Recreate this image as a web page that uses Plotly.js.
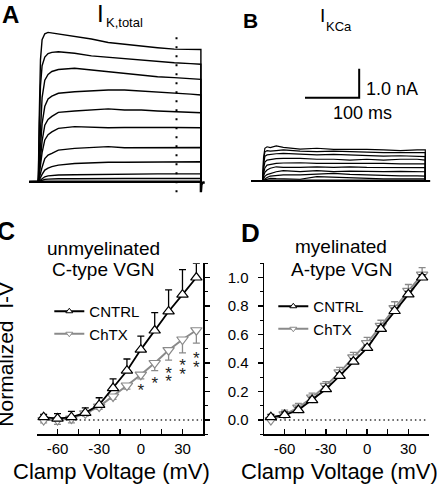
<!DOCTYPE html>
<html><head><meta charset="utf-8">
<script src="https://cdn.plot.ly/plotly-3.0.1.min.js"></script>
<style>html,body{margin:0;padding:0;background:#fff}#plot{width:437px;height:489px}</style>
</head><body><div id="plot"></div>
<script>
// ---------- Panel A: I K,total current family (time ms, current nA) ----------
const stepStartMs = 0, stepEndMs = 300;
const preTimesA = [-17, 0];
const stepTimesA = [1.5, 4, 7, 12, 18, 25, 37, 67, 98, 129, 159, 190, 220, 251, 281, 300];
const kTotal1 = [2.0, 4.2, 4.9, 5.1, 5.15, 5.13, 5.08, 5.02, 4.92, 4.80, 4.74, 4.66, 4.62, 4.57, 4.56, 4.56];
const kTotal2 = [1.5, 3.3, 4.0, 4.3, 4.42, 4.46, 4.48, 4.43, 4.34, 4.29, 4.25, 4.20, 4.14, 4.10, 4.07, 4.05];
const kTotal3 = [0.8, 2.0, 2.9, 3.5, 3.7, 3.8, 3.87, 3.91, 3.85, 3.79, 3.74, 3.68, 3.62, 3.59, 3.54, 3.53];
const kTotal4 = [0.5, 1.3, 2.0, 2.6, 2.85, 2.95, 3.05, 3.10, 3.13, 3.16, 3.16, 3.13, 3.10, 3.07, 3.02, 2.99];
const kTotal5 = [0.3, 0.9, 1.4, 1.95, 2.15, 2.25, 2.39, 2.44, 2.47, 2.51, 2.47, 2.47, 2.44, 2.41, 2.39, 2.38];
const kTotal6 = [0.2, 0.6, 1.0, 1.44, 1.62, 1.72, 1.84, 1.90, 1.87, 1.86, 1.87, 1.86, 1.87, 1.87, 1.86, 1.86];
const kTotal7 = [0.1, 0.3, 0.5, 0.80, 0.92, 0.98, 1.09, 1.15, 1.17, 1.21, 1.17, 1.17, 1.17, 1.16, 1.17, 1.18];
const kTotal8 = [0.05, 0.15, 0.25, 0.40, 0.47, 0.52, 0.57, 0.63, 0.66, 0.67, 0.67, 0.67, 0.69, 0.69, 0.69, 0.69];
const kTotal9 = [0.02, 0.06, 0.10, 0.17, 0.20, 0.22, 0.23, 0.24, 0.25, 0.26, 0.26, 0.26, 0.27, 0.27, 0.27, 0.27];
const kTotal10 = [0.01, 0.03, 0.05, 0.08, 0.09, 0.10, 0.10, 0.10, 0.11, 0.11, 0.11, 0.11, 0.11, 0.11, 0.11, 0.11];
const tailTimesA = [300, 300, 301, 303, 307];
const tailCurrentA = [0, -0.36, -0.1, -0.04, -0.02];
const markerTimeMs = 255;
const markerSpanNA = [-0.36, 5.13];

// ---------- Panel B: I KCa current family ----------
const preTimesB = [-21, 0];
const stepTimesB = [1.5, 4, 8, 14, 25, 38, 69, 100, 131, 161, 192, 223, 254, 285, 300];
const kCa1 = [0.8, 1.13, 1.18, 1.15, 1.21, 1.16, 1.10, 1.13, 1.09, 1.10, 1.09, 1.07, 1.05, 1.07, 1.07];
const kCa2 = [0.7, 1.00, 1.05, 1.03, 1.05, 1.07, 1.03, 1.01, 1.03, 1.01, 1.01, 0.98, 0.98, 0.98, 0.98];
const kCa3 = [0.55, 0.85, 0.90, 0.92, 0.94, 0.95, 0.93, 0.90, 0.92, 0.90, 0.86, 0.86, 0.87, 0.84, 0.84];
const kCa4 = [0.4, 0.65, 0.72, 0.74, 0.77, 0.78, 0.78, 0.75, 0.75, 0.72, 0.75, 0.72, 0.75, 0.75, 0.72];
const kCa5 = [0.25, 0.45, 0.55, 0.58, 0.61, 0.62, 0.63, 0.61, 0.61, 0.63, 0.61, 0.61, 0.59, 0.59, 0.59];
const kCa6 = [0.15, 0.30, 0.38, 0.44, 0.49, 0.47, 0.47, 0.49, 0.47, 0.49, 0.47, 0.47, 0.47, 0.46, 0.46];
const kCa7 = [0.08, 0.16, 0.22, 0.26, 0.32, 0.36, 0.32, 0.36, 0.32, 0.34, 0.32, 0.32, 0.33, 0.32, 0.32];
const kCa8 = [0.04, 0.08, 0.12, 0.17, 0.19, 0.21, 0.21, 0.24, 0.26, 0.23, 0.21, 0.21, 0.18, 0.18, 0.17];
const kCa9 = [0.02, 0.04, 0.06, 0.09, 0.08, 0.07, 0.06, 0.15, 0.13, 0.09, 0.09, 0.07, 0.07, 0.07, 0.07];
const kCa10 = [0.01, 0.02, 0.02, 0.03, 0.03, 0.04, 0.03, 0.04, 0.04, 0.05, 0.04, 0.04, 0.03, 0.03, 0.03];
const baselineB = [-21, 309];
const scaleBarMs = 100, scaleBarNA = 1.0;
const scaleCornerMs = 178, scaleCornerNA = 2.87;

// ---------- Panels C, D: normalized I-V ----------
const voltages = [-70, -60, -50, -40, -30, -20, -10, 0, 10, 20, 30, 40];
const cCntrl = [0.02, 0.01, 0.02, 0.05, 0.106, 0.224, 0.346, 0.494, 0.628, 0.762, 0.88, 1.0];
const cCntrlErr = [0.02, 0.035, 0.04, 0.035, 0.05, 0.064, 0.082, 0.094, 0.125, 0.151, 0.176, 0.1];
const cChtx = [0.0, 0.0, 0.01, 0.047, 0.094, 0.165, 0.242, 0.318, 0.40, 0.49, 0.565, 0.63];
const cChtxErr = [0.02, 0.03, 0.03, 0.02, 0.02, 0.02, 0.025, 0.03, 0.054, 0.07, 0.094, 0.09];
const dCntrl = [0.02, 0.035, 0.07, 0.14, 0.216, 0.31, 0.41, 0.506, 0.64, 0.765, 0.882, 1.0];
const dCntrlErr = [0.02, 0.02, 0.02, 0.02, 0.02, 0.02, 0.02, 0.02, 0.02, 0.02, 0.02, 0.02];
const dChtx = [0.0, 0.04, 0.087, 0.158, 0.24, 0.334, 0.44, 0.54, 0.66, 0.785, 0.906, 1.02];
const dChtxErr = [0.02, 0.03, 0.03, 0.03, 0.03, 0.035, 0.035, 0.04, 0.04, 0.045, 0.045, 0.05];
const starsV = [0, 10, 20, 20, 30, 30, 40, 40];
const starsY = [0.20, 0.245, 0.32, 0.262, 0.373, 0.313, 0.423, 0.363];
const zeroLineV = [-70, 44];
const xTickVals = [-60, -30, 0, 30];
const xTickText = ['-60', '-30', '0', '30'];
const yTickVals = [0, 0.2, 0.4, 0.6, 0.8, 1.0];
const yTickText = ['0.0', '0.2', '0.4', '0.6', '0.8', '1.0'];
const seriesNames = ['CNTRL', 'ChTX'];

// ---------- build ----------
const W = 437, H = 489;
const FONT = 'Liberation Sans, Arial, Helvetica, sans-serif';
const GRAY = '#8a8a8a';
const dx = (a, b) => [a / W, b / W];
const dy = (top, bot) => [1 - bot / H, 1 - top / H];

const traces = [];
const sweep = (pre, times, vals, end, xa, ya, w) => ({
  x: pre.concat(times).concat([end]), y: pre.map(() => 0).concat(vals).concat([0]),
  xaxis: xa, yaxis: ya, mode: 'lines', line: {color: '#000', width: w}, showlegend: false, hoverinfo: 'skip'
});
[kTotal1, kTotal2, kTotal3, kTotal4, kTotal5, kTotal6, kTotal7, kTotal8, kTotal9, kTotal10].forEach(v =>
  traces.push(sweep(preTimesA, stepTimesA, v, stepEndMs, 'x', 'y', 1.4)));
traces.push({x: [preTimesA[0]].concat(tailTimesA), y: [0].concat(tailCurrentA), xaxis: 'x', yaxis: 'y',
  mode: 'lines', line: {color: '#000', width: 2.4}, showlegend: false});
traces.push({x: [markerTimeMs, markerTimeMs], y: markerSpanNA, xaxis: 'x', yaxis: 'y', mode: 'lines',
  line: {color: '#000', width: 2, dash: '2px,7px'}, showlegend: false});

[kCa1, kCa2, kCa3, kCa4, kCa5, kCa6, kCa7, kCa8, kCa9, kCa10].forEach(v =>
  traces.push(sweep(preTimesB, stepTimesB, v, stepEndMs, 'x2', 'y2', 1.2)));
traces.push({x: baselineB, y: [0, 0], xaxis: 'x2', yaxis: 'y2', mode: 'lines', line: {color: '#000', width: 2}, showlegend: false});
traces.push({x: [scaleCornerMs - scaleBarMs, scaleCornerMs, scaleCornerMs],
  y: [scaleCornerNA, scaleCornerNA, scaleCornerNA + scaleBarNA], xaxis: 'x2', yaxis: 'y2',
  mode: 'lines', line: {color: '#000', width: 2}, showlegend: false});

function ivPanel(xa, ya, cntrl, cErr, chtx, hErr, chtxDown) {
  traces.push({x: zeroLineV, y: [0, 0], xaxis: xa, yaxis: ya, mode: 'lines',
    line: {color: '#333', width: 1.4, dash: '1.5px,3px'}, showlegend: false});
  traces.push({x: voltages, y: chtx, xaxis: xa, yaxis: ya, mode: 'lines+markers', showlegend: false,
    line: {color: GRAY, width: 2},
    marker: {symbol: 'triangle-down', size: 10, color: '#fff', line: {color: GRAY, width: 1.2}},
    error_y: chtxDown ? {type: 'data', symmetric: false, array: chtx.map(() => 0), arrayminus: hErr, color: GRAY, thickness: 1.3, width: 3.5}
                      : {type: 'data', symmetric: false, array: hErr, arrayminus: chtx.map(() => 0), color: GRAY, thickness: 1.3, width: 3.5}});
  traces.push({x: voltages, y: cntrl, xaxis: xa, yaxis: ya, mode: 'lines+markers', showlegend: false,
    line: {color: '#000', width: 1.8},
    marker: {symbol: 'triangle-up', size: 10, color: '#fff', line: {color: '#000', width: 1.2}},
    error_y: {type: 'data', symmetric: false, array: cErr, arrayminus: cntrl.map(() => 0), color: '#000', thickness: 1.3, width: 3.5}});
}
ivPanel('x3', 'y3', cCntrl, cCntrlErr, cChtx, cChtxErr, true);
ivPanel('x4', 'y4', dCntrl, dCntrlErr, dChtx, dChtxErr, false);
traces.push({x: starsV, y: starsY, xaxis: 'x3', yaxis: 'y3', mode: 'text', text: starsV.map(() => '*'),
  textfont: {size: 17, color: '#222', family: FONT}, showlegend: false});

// legend entries
[['x3', 'y3', 'legend'], ['x4', 'y4', 'legend2']].forEach(([xa, ya, lg]) => {
  traces.push({x: [null], y: [null], xaxis: xa, yaxis: ya, name: seriesNames[0], legend: lg, mode: 'lines+markers',
    line: {color: '#000', width: 2}, marker: {symbol: 'triangle-up', size: 6, color: '#fff', line: {color: '#000', width: 1}}});
  traces.push({x: [null], y: [null], xaxis: xa, yaxis: ya, name: seriesNames[1], legend: lg, mode: 'lines+markers',
    line: {color: GRAY, width: 2}, marker: {symbol: 'triangle-down', size: 6, color: '#fff', line: {color: GRAY, width: 1}}});
});

const hidden = {visible: false, fixedrange: true};
const ivX = (dom, anchor) => ({domain: dom, anchor: anchor, range: [-75, 45], showgrid: false, zeroline: false,
  showline: true, linecolor: '#000', linewidth: 1.5, ticks: 'inside', ticklen: 5, tickwidth: 1.3, tickcolor: '#000',
  tickmode: 'array', tickvals: xTickVals, ticktext: xTickText, tickfont: {size: 15, color: '#000'},
  minor: {dtick: 15, tick0: 0, ticks: 'inside', ticklen: 5, tickwidth: 1.3, tickcolor: '#000'}});
const ivY = (dom, anchor, side, labels) => ({domain: dom, anchor: anchor, side: side, range: [-0.1, 1.1001],
  showgrid: false, zeroline: false, showline: true, linecolor: '#000', linewidth: 1.5,
  ticks: 'outside', ticklen: 5, tickwidth: 1.3, tickcolor: '#000', showticklabels: labels,
  tickmode: 'array', tickvals: yTickVals, ticktext: yTickText, tickfont: {size: 15, color: '#000'}, ticklabelstandoff: 6,
  minor: {dtick: 0.1, tick0: 0, ticks: 'outside', ticklen: 3, tickwidth: 1.3, tickcolor: '#000'}});

function ann(text, x, y, size, extra) {
  return Object.assign({text: text, xref: 'paper', yref: 'paper', x: x / W, y: 1 - y / H,
    xanchor: 'center', yanchor: 'middle', showarrow: false, font: {size: size, color: '#000', family: FONT}}, extra || {});
}

const layout = {
  width: W, height: H, margin: {l: 0, r: 0, t: 0, b: 0}, paper_bgcolor: '#fff', plot_bgcolor: 'rgba(0,0,0,0)',
  font: {family: FONT, color: '#000'}, showlegend: true,
  xaxis: Object.assign({domain: dx(20, 215), range: [(20 - 38.3) / 0.542, (215 - 38.3) / 0.542], anchor: 'y'}, hidden),
  yaxis: Object.assign({domain: dy(20, 200), range: [(181.7 - 200) / 29, (181.7 - 20) / 29], anchor: 'x'}, hidden),
  xaxis2: Object.assign({domain: dx(240, 437), range: [(240 - 262.7) / 0.542, (437 - 262.7) / 0.542], anchor: 'y2'}, hidden),
  yaxis2: Object.assign({domain: dy(60, 200), range: [(181 - 200) / 29, (181 - 60) / 29], anchor: 'x2'}, hidden),
  xaxis3: ivX(dx(36.7, 203.3), 'y3'),
  yaxis3: ivY(dy(263.25, 434.25), 'x3', 'right', false),
  xaxis4: ivX(dx(264, 429), 'y4'),
  yaxis4: ivY(dy(263.25, 434.25), 'x4', 'left', true),
  legend: {x: 49.3 / W, xanchor: 'left', y: 1 - 295 / H, yanchor: 'top', bgcolor: 'rgba(0,0,0,0)', borderwidth: 0,
    font: {size: 15, color: '#000'}, itemwidth: 30, tracegroupgap: 0},
  legend2: {x: 273.3 / W, xanchor: 'left', y: 1 - 290 / H, yanchor: 'top', bgcolor: 'rgba(0,0,0,0)', borderwidth: 0,
    font: {size: 15, color: '#000'}, itemwidth: 30, tracegroupgap: 0},
  annotations: [
    ann('<b>A</b>', 10.8, 14.9, 24),
    ann('<b>B</b>', 250.8, 20, 21),
    ann('<b>C</b>', 6, 231.3, 25),
    ann('<b>D</b>', 250, 232.6, 26),
    ann('I', 100.5, 13.6, 24),
    ann('K,total', 124.7, 22.8, 13),
    ann('I', 322.2, 15, 19),
    ann('KCa', 338.8, 26.5, 13),
    ann('1.0 nA', 364, 88.7, 18, {xanchor: 'left'}),
    ann('100 ms', 362.5, 113, 18),
    ann('unmyelinated', 103, 248.4, 19),
    ann('C-type VGN', 103, 269.4, 19),
    ann('myelinated', 341, 246.4, 19),
    ann('A-type VGN', 341.5, 269.4, 19),
    ann('Clamp Voltage (mV)', 111.3, 471.3, 22),
    ann('Clamp Voltage (mV)', 339.5, 471.3, 22),
    ann('Normalized&nbsp; I-V', 4.7, 354, 21, {textangle: -90})
  ]
};
Plotly.newPlot('plot', traces, layout, {staticPlot: true, displayModeBar: false});
</script></body></html>
